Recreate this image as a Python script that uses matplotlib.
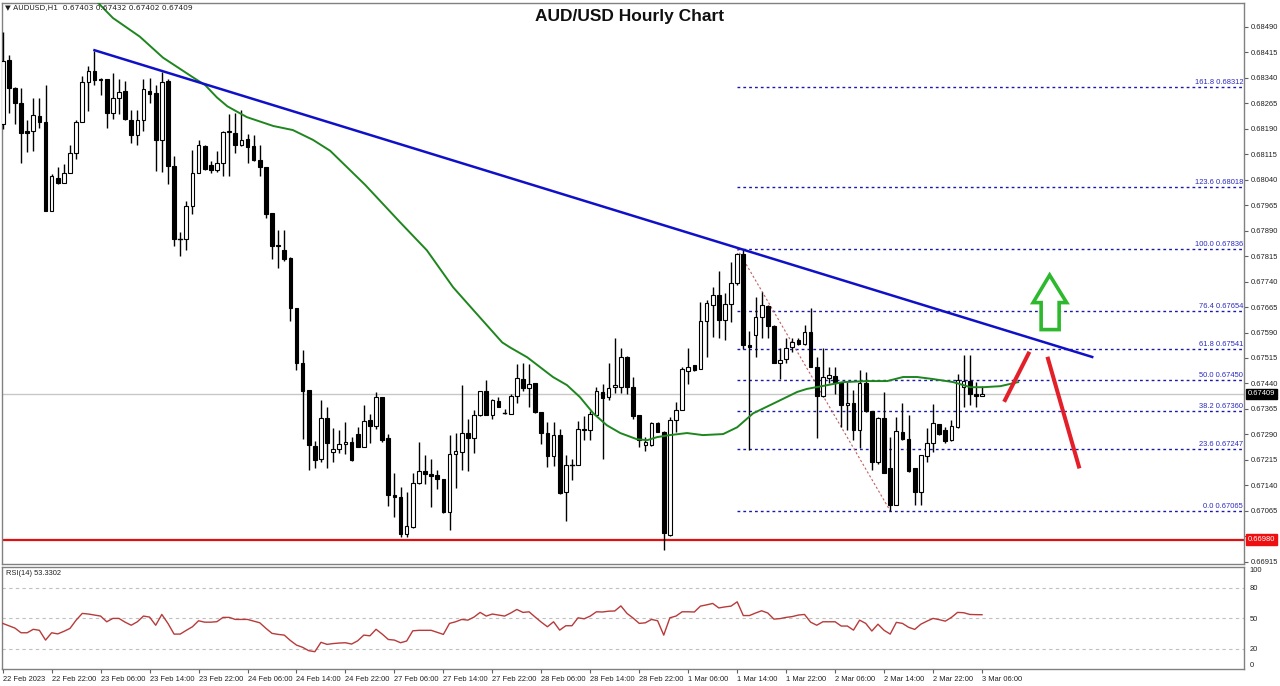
import matplotlib
matplotlib.use('Agg')
import matplotlib.pyplot as plt
from matplotlib.patches import Polygon
import matplotlib.transforms as mtransforms

# ---------------- data ----------------
opens = [0.68204,0.68391,0.68309,0.68265,0.68183,0.68183,0.68227,0.68209,0.67947,0.68046,
         0.68031,0.68060,0.68119,0.68209,0.68326,0.68361,0.68335,0.68335,0.68236,0.68280,
         0.68300,0.68215,0.68171,0.68215,0.68300,0.68294,0.68157,0.68329,0.68081,0.67865,
         0.67865,0.67962,0.68060,0.68139,0.68084,0.68069,0.68090,0.68180,0.68177,0.68142,
         0.68160,0.68139,0.68098,0.68078,0.67941,0.67848,0.67833,0.67809,0.67662,0.67500,
         0.67420,0.67256,0.67218,0.67338,0.67238,0.67246,0.67263,0.67268,0.67291,0.67252,
         0.67333,0.67315,0.67399,0.67278,0.67113,0.67105,0.66997,0.67018,0.67148,0.67181,
         0.67173,0.67170,0.67158,0.67063,0.67232,0.67239,0.67293,0.67278,0.67346,0.67419,
         0.67346,0.67388,0.67355,0.67351,0.67402,0.67454,0.67428,0.67440,0.67356,0.67294,
         0.67226,0.67288,0.67121,0.67199,0.67199,0.67307,0.67302,0.67346,0.67414,0.67400,
         0.67431,0.67429,0.67518,0.67429,0.67346,0.67258,0.67260,0.67324,0.67297,0.66994,
         0.67333,0.67363,0.67477,0.67493,0.67484,0.67625,0.67671,0.67700,0.67627,0.67674,
         0.67736,0.67822,0.67554,0.67584,0.67635,0.67668,0.67610,0.67499,0.67513,0.67546,
         0.67567,0.67555,0.67591,0.67489,0.67402,0.67455,0.67462,0.67442,0.67376,0.67382,
         0.67303,0.67440,0.67359,0.67209,0.67337,0.67190,0.67082,0.67297,0.67276,0.67190,
         0.67121,0.67225,0.67264,0.67322,0.67302,0.67273,0.67312,0.67430,0.67448,0.67409,
         0.67403]
highs = [0.68475,0.68408,0.68313,0.68309,0.68215,0.68280,0.68280,0.68320,0.68057,0.68078,
         0.68087,0.68142,0.68215,0.68344,0.68376,0.68420,0.68338,0.68335,0.68353,0.68335,
         0.68329,0.68244,0.68244,0.68335,0.68338,0.68318,0.68356,0.68335,0.68110,0.67886,
         0.67976,0.68128,0.68157,0.68142,0.68095,0.68125,0.68183,0.68233,0.68236,0.68244,
         0.68174,0.68171,0.68142,0.68078,0.67941,0.67892,0.67892,0.67812,0.67662,0.67538,
         0.67420,0.67271,0.67390,0.67370,0.67308,0.67302,0.67327,0.67283,0.67312,0.67378,
         0.67351,0.67415,0.67399,0.67291,0.67176,0.67136,0.67121,0.67175,0.67268,0.67228,
         0.67218,0.67184,0.67160,0.67288,0.67293,0.67435,0.67336,0.67361,0.67419,0.67449,
         0.67395,0.67400,0.67366,0.67410,0.67498,0.67500,0.67496,0.67442,0.67356,0.67327,
         0.67327,0.67307,0.67228,0.67219,0.67329,0.67343,0.67359,0.67429,0.67437,0.67500,
         0.67574,0.67545,0.67520,0.67458,0.67346,0.67281,0.67327,0.67327,0.67300,0.67341,
         0.67385,0.67489,0.67545,0.67493,0.67680,0.67686,0.67723,0.67772,0.67706,0.67799,
         0.67825,0.67836,0.67593,0.67695,0.67710,0.67671,0.67613,0.67543,0.67574,0.67574,
         0.67575,0.67613,0.67661,0.67518,0.67543,0.67489,0.67489,0.67445,0.67445,0.67420,
         0.67479,0.67474,0.67359,0.67342,0.67415,0.67283,0.67342,0.67382,0.67346,0.67190,
         0.67228,0.67308,0.67381,0.67322,0.67312,0.67332,0.67469,0.67523,0.67523,0.67445,
         0.67432]
lows  = [0.68189,0.68236,0.68204,0.68089,0.68122,0.68125,0.68192,0.67947,0.67947,0.68028,
         0.68031,0.68060,0.68101,0.68209,0.68242,0.68318,0.68288,0.68192,0.68218,0.68233,
         0.68215,0.68148,0.68142,0.68183,0.68265,0.68066,0.68063,0.68028,0.67845,0.67815,
         0.67833,0.67938,0.68060,0.68069,0.68060,0.68063,0.68051,0.68051,0.68119,0.68139,
         0.68090,0.68095,0.68051,0.67927,0.67807,0.67779,0.67800,0.67624,0.67479,0.67276,
         0.67186,0.67191,0.67209,0.67192,0.67208,0.67235,0.67231,0.67212,0.67252,0.67252,
         0.67265,0.67307,0.67268,0.67079,0.67046,0.66989,0.66989,0.67015,0.67145,0.67145,
         0.67077,0.67128,0.67059,0.67009,0.67131,0.67184,0.67183,0.67234,0.67343,0.67346,
         0.67336,0.67370,0.67351,0.67351,0.67382,0.67418,0.67372,0.67353,0.67261,0.67193,
         0.67197,0.67116,0.67036,0.67157,0.67199,0.67273,0.67275,0.67346,0.67217,0.67390,
         0.67411,0.67411,0.67410,0.67336,0.67253,0.67242,0.67255,0.67297,0.66950,0.66992,
         0.67297,0.67361,0.67438,0.67477,0.67484,0.67518,0.67577,0.67574,0.67569,0.67622,
         0.67731,0.67540,0.67245,0.67518,0.67574,0.67575,0.67499,0.67452,0.67499,0.67533,
         0.67552,0.67552,0.67489,0.67278,0.67400,0.67440,0.67410,0.67312,0.67303,0.67273,
         0.67249,0.67356,0.67185,0.67204,0.67175,0.67065,0.67082,0.67273,0.67180,0.67082,
         0.67082,0.67209,0.67239,0.67288,0.67264,0.67271,0.67308,0.67372,0.67377,0.67370,
         0.67402]
closes = [0.68388,0.68309,0.68265,0.68177,0.68177,0.68230,0.68209,0.67947,0.68051,0.68031,
          0.68060,0.68119,0.68209,0.68326,0.68361,0.68332,0.68332,0.68236,0.68280,0.68297,
          0.68218,0.68171,0.68215,0.68306,0.68291,0.68157,0.68326,0.68081,0.67865,0.67865,
          0.67962,0.68060,0.68142,0.68072,0.68069,0.68090,0.68180,0.68183,0.68142,0.68157,
          0.68136,0.68098,0.68078,0.67938,0.67845,0.67845,0.67806,0.67662,0.67500,0.67417,
          0.67259,0.67215,0.67338,0.67265,0.67247,0.67261,0.67268,0.67216,0.67252,0.67330,
          0.67315,0.67399,0.67275,0.67111,0.67105,0.66997,0.67021,0.67148,0.67181,0.67173,
          0.67167,0.67158,0.67063,0.67232,0.67240,0.67293,0.67278,0.67346,0.67417,0.67346,
          0.67390,0.67370,0.67354,0.67402,0.67457,0.67428,0.67438,0.67356,0.67293,0.67226,
          0.67288,0.67118,0.67199,0.67199,0.67307,0.67302,0.67349,0.67419,0.67398,0.67427,
          0.67434,0.67518,0.67429,0.67343,0.67273,0.67268,0.67324,0.67297,0.66999,0.67333,
          0.67363,0.67484,0.67489,0.67479,0.67625,0.67676,0.67700,0.67627,0.67674,0.67736,
          0.67820,0.67554,0.67547,0.67635,0.67671,0.67610,0.67499,0.67508,0.67543,0.67562,
          0.67555,0.67591,0.67489,0.67402,0.67460,0.67464,0.67442,0.67376,0.67382,0.67303,
          0.67440,0.67359,0.67209,0.67337,0.67175,0.67082,0.67300,0.67276,0.67183,0.67121,
          0.67228,0.67266,0.67324,0.67291,0.67271,0.67314,0.67450,0.67448,0.67409,0.67404,
          0.67409]

rsi_values = [44.8,42.5,40.2,35.6,35.6,39.0,38.0,28.4,35.6,34.5,37.0,39.9,48.0,54.6,54.0,53.0,
              52.0,46.4,49.7,49.7,46.0,43.0,46.4,52.0,51.0,43.0,53.6,44.8,34.3,34.3,38.0,41.5,
              47.4,46.0,46.0,46.5,50.7,50.7,48.7,48.7,48.7,47.0,45.4,40.0,35.0,34.0,33.3,28.0,
              23.5,21.3,18.0,17.0,26.2,24.2,25.0,25.5,25.8,24.5,27.7,33.3,32.6,39.0,34.3,29.0,
              28.4,25.8,27.5,37.5,38.0,38.0,38.0,36.0,34.0,44.8,46.4,48.7,48.0,51.0,55.6,52.0,
              54.0,53.0,52.0,55.0,58.5,55.6,56.2,51.0,46.0,41.5,46.4,38.2,42.5,42.5,50.3,49.3,
              52.0,56.2,56.0,56.8,57.0,62.0,54.6,50.0,44.8,45.4,48.7,47.4,33.3,50.3,52.0,56.2,
              56.2,56.0,61.8,63.0,64.4,60.0,61.0,61.8,66.0,52.5,52.5,55.0,57.2,55.0,49.0,49.5,
              50.7,51.5,53.0,53.6,46.0,43.0,46.4,46.4,46.4,42.2,42.2,38.2,48.0,44.8,37.3,44.0,
              38.0,34.3,45.8,44.8,41.0,38.9,44.0,47.0,49.7,48.5,47.0,50.7,55.6,55.3,53.6,53.4,
              53.3302]

ma_bar = [15.4,18.0,22.4,26.2,31.1,33.1,35.0,36.7,39.9,44.2,47.4,50.7,53.5,59.2,64.9,69.3,
          73.6,76.9,81.6,82.9,85.7,89.9,92.2,94.3,96.5,98.7,100.9,103.6,105.3,106.9,109.0,
          111.8,114.4,117.7,120.0,122.6,126.5,129.8,131.4,134.7,137.3,141.2,144.5,147.1,
          149.4,152.0,155.3,158.1,160.2,163.0,165.9]
ma_price = [0.68564,0.68516,0.68461,0.68399,0.68341,0.68318,0.68282,0.68256,0.68224,0.68198,
            0.68186,0.68157,0.68125,0.68025,0.67915,0.67832,0.67723,0.67656,0.67561,0.67546,
            0.67517,0.67459,0.67435,0.67400,0.67352,0.67317,0.67294,0.67276,0.67273,0.67282,
            0.67288,0.67294,0.67288,0.67291,0.67311,0.67352,0.67386,0.67415,0.67424,0.67435,
            0.67444,0.67447,0.67447,0.67459,0.67459,0.67453,0.67444,0.67429,0.67429,0.67432,
            0.67444]

trend_bars = [15, 178]
trend_prices = [0.68421, 0.67518]

fib_levels = ['161.8', '123.6', '100.0', '76.4', '61.8', '50.0', '38.2', '23.6', '0.0']
fib_prices = [0.68312, 0.68018, 0.67836, 0.67654, 0.67541, 0.67450, 0.67360, 0.67247, 0.67065]
fib_start_bar = 120
fib_swing_bars = [120, 145]
fib_swing_prices = [0.67836, 0.67065]

support_price = 0.66980
last_price = 0.67409

time_labels = ['22 Feb 2023', '22 Feb 22:00', '23 Feb 06:00', '23 Feb 14:00', '23 Feb 22:00',
               '24 Feb 06:00', '24 Feb 14:00', '24 Feb 22:00', '27 Feb 06:00', '27 Feb 14:00',
               '27 Feb 22:00', '28 Feb 06:00', '28 Feb 14:00', '28 Feb 22:00', '1 Mar 06:00',
               '1 Mar 14:00', '1 Mar 22:00', '2 Mar 06:00', '2 Mar 14:00', '2 Mar 22:00',
               '3 Mar 06:00']
time_label_step = 8

price_ticks = [0.68490, 0.68415, 0.68340, 0.68265, 0.68190, 0.68115, 0.68040, 0.67965,
               0.67890, 0.67815, 0.67740, 0.67665, 0.67590, 0.67515, 0.67440, 0.67365,
               0.67290, 0.67215, 0.67140, 0.67065, 0.66990, 0.66915]
hidden_tick = 0.66990   # covered by the support-price marker in the reference
rsi_ticks = [100, 80, 50, 20, 0]

# ---------------- figure ----------------
W, H = 1280, 686
fig = plt.figure(figsize=(12.8, 6.86), dpi=100)
plt.rcParams['font.family'] = ['Liberation Sans', 'DejaVu Sans']

def fx(px):
    return px / W

def fy(py):
    return 1 - py / H

left_px, right_px = 1.7, 1244.0
ax = fig.add_axes([fx(left_px), fy(563.5), fx(right_px - left_px), (563.5 - 3) / H])
axr = fig.add_axes([fx(left_px), fy(669), fx(right_px - left_px), (669 - 566.5) / H])

n = len(closes)
xs = list(range(n))
xlim = (-0.16, 202.8)
spine_col = '#808080'
small = 5.4

for a in (ax, axr):
    a.set_xlim(*xlim)
    for s in a.spines.values():
        s.set_color(spine_col)
        s.set_linewidth(1.0)
    a.set_facecolor('white')

ax.set_ylim(0.66910, 0.68560)

# reference lines
ax.axhline(last_price, color='#c8c8c8', lw=1.0, zorder=1)
ax.axhline(support_price, color='#e01010', lw=1.6, zorder=1)

# fib levels
blend = mtransforms.blended_transform_factory(ax.transAxes, ax.transData)
for lvl, p in zip(fib_levels, fib_prices):
    ax.plot([fib_start_bar, xlim[1]], [p, p], color='#1a1aa8', lw=1.0,
            linestyle=(0, (2, 2.2)), zorder=2)
    ax.text(0.9992, p + 0.00003, f'{lvl} {p:.5f}', transform=blend,
            ha='right', va='bottom', fontsize=small, color='#2a2ac0', zorder=3)
ax.plot(fib_swing_bars, fib_swing_prices, color='#c06060', lw=0.8, linestyle=(0, (2, 2)), zorder=2)

# candles
ax.vlines(xs, lows, highs, color='black', lw=1.0, zorder=4)
body_w = 0.6
for i in xs:
    o, c = opens[i], closes[i]
    bottom = min(o, c)
    height = abs(c - o)
    if height < 0.000015:
        ax.plot([i - body_w / 2, i + body_w / 2], [c, c], color='black', lw=1.0, zorder=5)
        continue
    face = 'white' if c > o else 'black'
    ax.bar(i, height, bottom=bottom, width=body_w, color=face, edgecolor='black',
           linewidth=0.8, zorder=5)

# moving average and trendline
ax.plot(ma_bar, ma_price, color='#1e861e', lw=1.4, zorder=6)
ax.plot(trend_bars, trend_prices, color='#1010c8', lw=1.8, zorder=6)

# annotations (green arrow, red projected moves), placed in screen-pixel terms
def bx(px):
    return (px - 2.7) / 6.12

def py_(pyv):
    return 0.68490 - (pyv - 26.7) * 0.00002944

arrow = Polygon([(bx(1049.5), py_(275)), (bx(1066.5), py_(302.5)), (bx(1059), py_(302.5)),
                 (bx(1059), py_(329.5)), (bx(1041), py_(329.5)), (bx(1041), py_(302.5)),
                 (bx(1033), py_(302.5))], closed=True, facecolor='white',
                edgecolor='#2db82d', lw=2.6, zorder=7, joinstyle='miter')
ax.add_patch(arrow)
ax.plot([bx(1004), bx(1029.3)], [py_(401.7), py_(351.7)], color='#e3202a', lw=2.9,
        solid_capstyle='butt', zorder=7)
ax.plot([bx(1047.3), bx(1079.3)], [py_(356.7), py_(468.3)], color='#e3202a', lw=2.9,
        solid_capstyle='butt', zorder=7)

# price axis on the right
ax.yaxis.tick_right()
ax.set_yticks(price_ticks)
ax.set_yticklabels(['' if abs(p - hidden_tick) < 1e-9 else f'{p:.5f}' for p in price_ticks])
ax.tick_params(axis='y', direction='out', length=3, width=0.8, color='#606060',
               labelsize=small, pad=2, labelcolor='#202020')
ax.set_xticks([])

ax.text(1.0030, last_price, f'{last_price:.5f}', transform=blend, ha='left', va='center',
        fontsize=small, color='white', zorder=10, clip_on=False,
        bbox=dict(boxstyle='square,pad=0.25', facecolor='black', edgecolor='black'))
ax.text(1.0030, support_price, f'{support_price:.5f}', transform=blend, ha='left', va='center',
        fontsize=small, color='white', zorder=10, clip_on=False,
        bbox=dict(boxstyle='square,pad=0.25', facecolor='#ee1010', edgecolor='#ee1010'))

# RSI panel
axr.set_ylim(0.8, 100.7)
for lv in (80, 50, 20):
    axr.axhline(lv, color='#c0c0c0', lw=0.8, linestyle=(0, (3, 3)), zorder=1)
axr.plot(xs, rsi_values, color='#b83a3a', lw=1.0, zorder=3)
axr.yaxis.tick_right()
axr.set_yticks(rsi_ticks)
axr.set_yticklabels([str(v) for v in rsi_ticks])
axr.tick_params(axis='y', direction='out', length=0, labelsize=small, pad=4, labelcolor='#202020')
for lab, v in zip(axr.get_yticklabels(), rsi_ticks):
    if v == 100:
        lab.set_va('top')
    elif v == 0:
        lab.set_va('bottom')
tick_pos = [k * time_label_step for k in range(len(time_labels))]
axr.set_xticks(tick_pos)
axr.set_xticklabels(time_labels, ha='left')
axr.tick_params(axis='x', direction='out', length=3, width=0.8, color='#606060',
                labelsize=small, pad=2, labelcolor='#202020')
axr.text(4 / (right_px - left_px), 0.93, f'RSI(14) {rsi_values[-1]:.4f}', transform=axr.transAxes,
         ha='left', va='center', fontsize=small, color='#202020')

# header and title
fig.text(fx(5), fy(7.7), '\u25bc AUDUSD,H1  0.67403 0.67432 0.67402 0.67409', ha='left', va='center',
         fontsize=small, color='#202020', family=['DejaVu Sans'])
fig.text(fx(630), fy(16), 'AUD/USD Hourly Chart', ha='center', va='center',
         fontsize=12.5, fontweight='bold', color='#101010')

fig.savefig('out.png', dpi=100, facecolor='white')
